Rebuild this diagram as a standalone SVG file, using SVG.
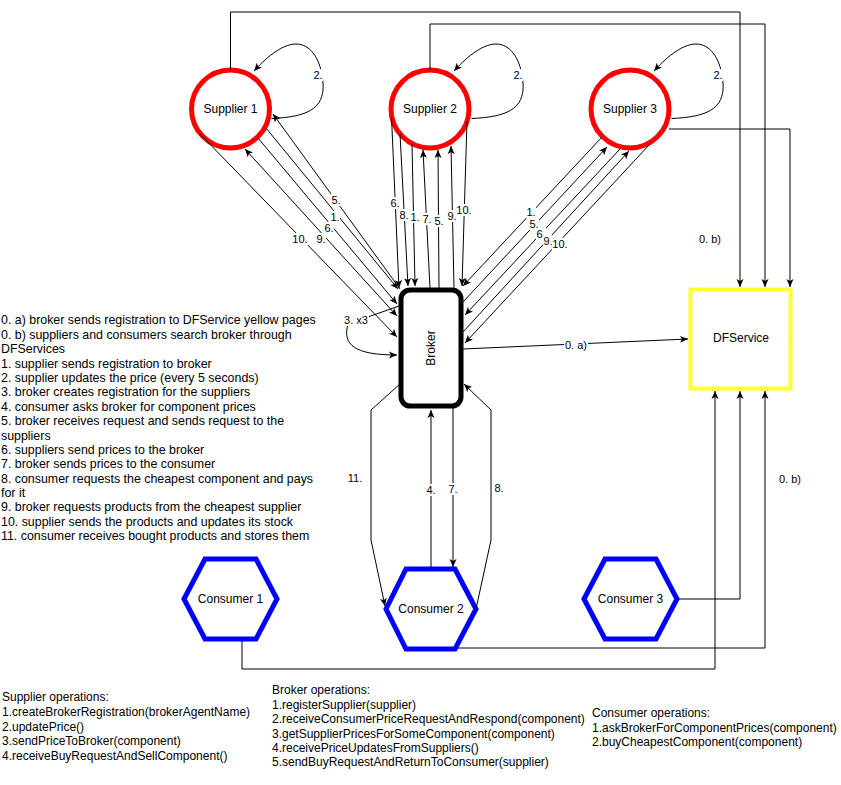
<svg xmlns="http://www.w3.org/2000/svg" width="841" height="785" viewBox="0 0 841 785">
<style>
text{font-family:"Liberation Sans",Arial,Helvetica,sans-serif;fill:#000}
.n{font-size:12px;text-anchor:middle}
.t{font-size:12px}
.lg{font-size:12.4px}
.e{font-size:11px;text-anchor:middle}
.sup{fill:#fff;stroke:#FF0000;stroke-width:5}
.con{fill:#fff;stroke:#0000FF;stroke-width:5;stroke-linejoin:miter}
.c{fill:none;stroke:#000;stroke-width:1;marker-end:url(#a)}
.c2{fill:none;stroke:#000;stroke-width:1;marker-end:url(#a);marker-start:url(#a)}
.bg{fill:#fff}
</style>
<defs>
<marker id="a" viewBox="0 0 8 8" refX="8" refY="4" markerWidth="8" markerHeight="8" markerUnits="userSpaceOnUse" orient="auto-start-reverse">
<path d="M0,0.5 L8,4 L0,7.5 L2,4 Z" fill="#000"/>
</marker>
</defs>
<rect width="841" height="785" fill="#fff"/>

<g id="supplier1"><circle class="sup" cx="230.5" cy="109" r="39"/><text class="n" x="230.5" y="113">Supplier 1</text></g>
<g id="supplier2"><circle class="sup" cx="430" cy="109" r="39"/><text class="n" x="430" y="113">Supplier 2</text></g>
<g id="supplier3"><circle class="sup" cx="630" cy="109" r="39"/><text class="n" x="630" y="113">Supplier 3</text></g>
<g id="broker"><rect x="401" y="290" width="60" height="116" rx="9" fill="#fff" stroke="#000" stroke-width="5"/><text class="n" transform="translate(435,348) rotate(-90)">Broker</text></g>
<g id="dfservice"><rect x="690.5" y="289.5" width="100" height="99" fill="#fff" stroke="#FFFF33" stroke-width="4"/><text class="n" x="741" y="342">DFService</text></g>
<g id="consumer1"><polygon class="con" points="184,599 205,559 256,559 277,599 256,639 205,639"/><text class="n" x="230.5" y="603">Consumer 1</text></g>
<g id="consumer2"><polygon class="con" points="386,609 406,569 455,569 476,609 455,649 406,649"/><text class="n" x="431" y="613">Consumer 2</text></g>
<g id="consumer3"><polygon class="con" points="584,599 605,559 656,559 677,599 656,639 605,639"/><text class="n" x="630.5" y="603">Consumer 3</text></g>

<g id="connectors">
<path class="c" d="M230.5 70 V12 H740 V287"/>
<path class="c" d="M430 70 V24 H765 V287"/>
<path class="c" d="M669 129 H790 V287"/>
<path class="c" d="M271.5 118.5 C305 117 325 110 323 83 C321 58 310 44 296 44 C281 44 264 60 254 71"/>
<path class="c" d="M471.5 118.5 C505 117 525 110 523 83 C521 58 510 44 496 44 C481 44 464 60 454 71"/>
<path class="c" d="M671.5 118.5 C705 117 725 110 723 83 C721 58 710 44 696 44 C681 44 664 60 654 71"/>
<path class="c" d="M400 289 L273 114"/>
<path class="c" d="M266 128 L398 289"/>
<path class="c" d="M258 138 L397 304"/>
<path class="c2" d="M397 316 L245 149"/>
<path class="c" d="M200 134 L397 337"/>
<path class="c" d="M391.5 117 L399 288"/>
<path class="c" d="M400 134 L408 286"/>
<path class="c" d="M412 144 L415 286"/>
<path class="c" d="M430 288 L423 150"/>
<path class="c" d="M439 288 L438 150"/>
<path class="c" d="M454 288 L451 146"/>
<path class="c" d="M467 121 L462 286"/>
<path class="c" d="M602 137 L463 286"/>
<path class="c" d="M463 302 L607 147"/>
<path class="c" d="M620 149 L465 315"/>
<path class="c" d="M463 332 L629 151"/>
<path class="c" d="M650 144 L465 343"/>
<path class="c" d="M399 306 L348 324 C342 345 355 355 397 355"/>
<path class="c" d="M463 349 L688 339"/>
<path class="c" d="M400 384 L371 410 V540 L385 606"/>
<path class="c" d="M431 569 V410"/>
<path class="c" d="M453 408 V567"/>
<path class="c" d="M476 609 L491 540 V410 L464 384"/>
<path class="c" d="M677 599 H740 V391"/>
<path class="c" d="M458 648 H765 V391"/>
<path class="c" d="M242 641 V669 H715 V391"/>

<rect class="bg" x="331" y="194" width="10" height="12"/><text class="e" x="336" y="204">5.</text>
<rect class="bg" x="330" y="211" width="10" height="12"/><text class="e" x="335" y="221">1.</text>
<rect class="bg" x="324" y="222" width="10" height="12"/><text class="e" x="329" y="232">6.</text>
<rect class="bg" x="316" y="233" width="10" height="12"/><text class="e" x="321" y="243">9.</text>
<rect class="bg" x="292" y="233" width="16" height="12"/><text class="e" x="300" y="243">10.</text>
<rect class="bg" x="390" y="197" width="10" height="12"/><text class="e" x="395" y="207">6.</text>
<rect class="bg" x="399" y="209" width="10" height="12"/><text class="e" x="404" y="219">8.</text>
<rect class="bg" x="410" y="211" width="10" height="12"/><text class="e" x="415" y="221">1.</text>
<rect class="bg" x="422" y="213" width="10" height="12"/><text class="e" x="427" y="223">7.</text>
<rect class="bg" x="434" y="215" width="10" height="12"/><text class="e" x="439" y="225">5.</text>
<rect class="bg" x="447" y="210" width="10" height="12"/><text class="e" x="452" y="220">9.</text>
<rect class="bg" x="456" y="204" width="16" height="12"/><text class="e" x="464" y="214">10.</text>
<rect class="bg" x="526" y="206" width="10" height="12"/><text class="e" x="531" y="216">1.</text>
<rect class="bg" x="529" y="218" width="10" height="12"/><text class="e" x="534" y="228">5.</text>
<rect class="bg" x="536" y="228" width="10" height="12"/><text class="e" x="541" y="238">6.</text>
<rect class="bg" x="543" y="235" width="10" height="12"/><text class="e" x="548" y="245">9.</text>
<rect class="bg" x="552" y="238" width="16" height="12"/><text class="e" x="560" y="248">10.</text>
<rect class="bg" x="564" y="339" width="24" height="12"/><text class="e" x="576" y="349">0. a)</text>
<text class="e" x="710" y="243">0. b)</text>
<text class="e" x="790" y="483">0. b)</text>
<text class="e" x="355" y="482">11.</text>
<rect class="bg" x="426" y="484" width="10" height="12"/><text class="e" x="431" y="494">4.</text>
<rect class="bg" x="448" y="483" width="10" height="12"/><text class="e" x="453" y="493">7.</text>
<text class="e" x="499" y="492">8.</text>
<rect class="bg" x="344" y="314" width="25" height="12"/><text class="e" x="356" y="324">3. x3</text>
<rect class="bg" x="313" y="69" width="10" height="12"/><text class="e" x="318" y="79">2.</text>
<rect class="bg" x="513" y="69" width="10" height="12"/><text class="e" x="518" y="79">2.</text>
<rect class="bg" x="713" y="69" width="10" height="12"/><text class="e" x="718" y="79">2.</text>
</g>

<g id="legend">
<text class="lg" x="1" y="324.3">
<tspan x="1" dy="0">0. a) broker sends registration to DFService yellow pages</tspan>
<tspan x="1" dy="14.4">0. b) suppliers and consumers search broker through</tspan>
<tspan x="1" dy="14.4">DFServices</tspan>
<tspan x="1" dy="14.4">1. supplier sends registration to broker</tspan>
<tspan x="1" dy="14.4">2. supplier updates the price (every 5 seconds)</tspan>
<tspan x="1" dy="14.4">3. broker creates registration for the suppliers</tspan>
<tspan x="1" dy="14.4">4. consumer asks broker for component prices</tspan>
<tspan x="1" dy="14.4">5. broker receives request and sends request to the</tspan>
<tspan x="1" dy="14.4">suppliers</tspan>
<tspan x="1" dy="14.4">6. suppliers send prices to the broker</tspan>
<tspan x="1" dy="14.4">7. broker sends prices to the consumer</tspan>
<tspan x="1" dy="14.4">8. consumer requests the cheapest component and pays</tspan>
<tspan x="1" dy="14.4">for it</tspan>
<tspan x="1" dy="14.4">9. broker requests products from the cheapest supplier</tspan>
<tspan x="1" dy="14.4">10. supplier sends the products and updates its stock</tspan>
<tspan x="1" dy="14.4">11. consumer receives bought products and stores them</tspan>
</text>
</g>

<g id="supplier-operations">
<text class="t" x="2" y="701.3">
<tspan x="2" dy="0">Supplier operations:</tspan>
<tspan x="2" dy="14.6">1.createBrokerRegistration(brokerAgentName)</tspan>
<tspan x="2" dy="14.6">2.updatePrice()</tspan>
<tspan x="2" dy="14.6">3.sendPriceToBroker(component)</tspan>
<tspan x="2" dy="14.6">4.receiveBuyRequestAndSellComponent()</tspan>
</text>
</g>
<g id="broker-operations">
<text class="t" x="272" y="694.3">
<tspan x="272" dy="0">Broker operations:</tspan>
<tspan x="272" dy="14.4">1.registerSupplier(supplier)</tspan>
<tspan x="272" dy="14.4">2.receiveConsumerPriceRequestAndRespond(component)</tspan>
<tspan x="272" dy="14.4">3.getSupplierPricesForSomeComponent(component)</tspan>
<tspan x="272" dy="14.4">4.receivePriceUpdatesFromSuppliers()</tspan>
<tspan x="272" dy="14.4">5.sendBuyRequestAndReturnToConsumer(supplier)</tspan>
</text>
</g>
<g id="consumer-operations">
<text class="t" x="592" y="717.3">
<tspan x="592" dy="0">Consumer operations:</tspan>
<tspan x="592" dy="14.4">1.askBrokerForComponentPrices(component)</tspan>
<tspan x="592" dy="14.4">2.buyCheapestComponent(component)</tspan>
</text>
</g>
</svg>
